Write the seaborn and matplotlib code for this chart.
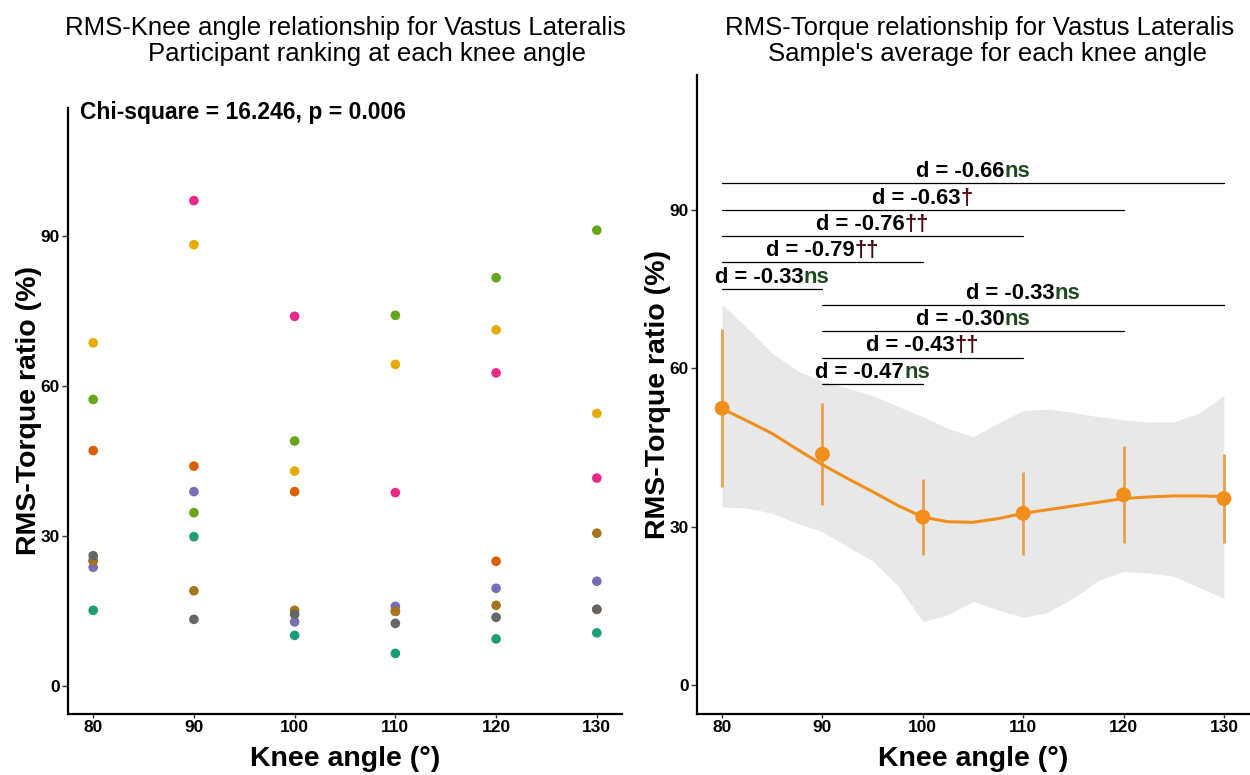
import numpy as np
import pandas as pd
import seaborn as sns
import matplotlib.pyplot as plt

sns.set_style("white")
plt.rcParams['font.family'] = ['Liberation Sans', 'DejaVu Sans']
plt.rcParams.update({"text.color": "black", "axes.labelcolor": "black",
                     "xtick.color": "black", "ytick.color": "black",
                     "axes.edgecolor": "black"})

# ---------------- data ----------------
angles = [80, 90, 100, 110, 120, 130]
participants = ["P1", "P2", "P3", "P4", "P5", "P6", "P7", "P8"]
dark2 = ["#1B9E77", "#D95F02", "#7570B3", "#E7298A",
         "#66A61E", "#E6AB02", "#A6761D", "#666666"]

# participant values per angle (left panel), order = participants
p1 = [15.2, 29.9, 10.2, 6.6, 9.5, 10.7]
p2 = [47.1, 44.0, 38.9, 15.0, 25.0, 15.4]
p3 = [23.8, 38.9, 12.9, 16.0, 19.6, 21.0]
p4 = [25.1, 97.0, 73.9, 38.7, 62.6, 41.6]
p5 = [57.3, 34.7, 49.0, 74.1, 81.6, 91.1]
p6 = [68.6, 88.2, 43.0, 64.3, 71.2, 54.5]
p7 = [25.1, 19.1, 15.2, 15.0, 16.2, 30.6]
p8 = [26.1, 13.4, 14.4, 12.6, 13.8, 15.4]

# sample mean and error per angle (right panel)
mean_ratio = [52.4, 43.7, 31.8, 32.5, 36.0, 35.3]
err_ratio = [15.0, 9.7, 7.2, 7.9, 9.2, 8.4]

# smoothed fit with its confidence band
fit_x = [80, 82.5, 85, 87.5, 90, 92.5, 95, 97.5, 100, 102.5, 105,
         107.5, 110, 112.5, 115, 117.5, 120, 122.5, 125, 127.5, 130]
fit_y = [52.3, 50.0, 47.6, 44.6, 41.7, 39.1, 36.6, 34.0, 31.8, 30.9, 30.8,
         31.5, 32.5, 33.2, 33.9, 34.6, 35.3, 35.6, 35.8, 35.8, 35.7]
fit_hi = [72.1, 67.6, 62.8, 59.5, 57.5, 56.2, 54.8, 52.8, 50.8, 48.6, 47.0,
          49.6, 52.0, 52.2, 51.6, 50.8, 50.2, 49.8, 49.8, 51.5, 54.8]
fit_lo = [33.7, 33.5, 32.5, 30.6, 29.0, 26.2, 23.5, 18.8, 12.0, 13.3, 15.8,
          14.2, 12.8, 13.8, 16.5, 19.8, 21.5, 21.2, 20.6, 18.5, 16.4]

# pairwise comparisons: start angle, end angle, bar height, effect size, significance
cmp_x1 = [80, 80, 80, 80, 80, 90, 90, 90, 90]
cmp_x2 = [130, 120, 110, 100, 90, 130, 120, 110, 100]
cmp_y = [95, 90, 85, 80, 75, 72, 67, 62, 57]
cmp_d = ["-0.66", "-0.63", "-0.76", "-0.79", "-0.33", "-0.33", "-0.30", "-0.43", "-0.47"]
cmp_sig = ["ns", "\u2020", "\u2020\u2020", "\u2020\u2020", "ns", "ns", "ns", "\u2020\u2020", "ns"]

sig_colors = {"ns": "#1F4A1F", "\u2020": "#5C0A0A", "\u2020\u2020": "#4A0A14"}

df = pd.DataFrame({
    "angle": angles * len(participants),
    "ratio": p1 + p2 + p3 + p4 + p5 + p6 + p7 + p8,
    "participant": np.repeat(participants, len(angles)),
})

# ---------------- figure ----------------
fig = plt.figure(figsize=(12.5, 7.75), dpi=100)
ax1 = fig.add_axes([0.0544, 0.0787, 0.4432, 0.782])
ax2 = fig.add_axes([0.5576, 0.0787, 0.4416, 0.8245])

sns.scatterplot(data=df, x="angle", y="ratio", hue="participant",
                palette=dark2, s=48, edgecolor="none", legend=False, ax=ax1)

ax2.fill_between(fit_x, fit_lo, fit_hi, color="#E8E8E8", linewidth=0, zorder=1)
ax2.errorbar(angles, mean_ratio, yerr=err_ratio, fmt="none",
             ecolor="#EBA04C", elinewidth=2.0, capsize=0, zorder=2)
sns.lineplot(x=fit_x, y=fit_y, color="#F28E1C", linewidth=2.2, ax=ax2, zorder=3)
sns.scatterplot(x=angles, y=mean_ratio, color="#F28E1C", s=115,
                edgecolor="none", ax=ax2, zorder=4)

for x1, x2, y, d, sig in zip(cmp_x1, cmp_x2, cmp_y, cmp_d, cmp_sig):
    ax2.plot([x1, x2], [y, y], color="black", linewidth=0.9, zorder=5)
    full = ax2.text((x1 + x2) / 2, y + 0.2, f"d = {d}{sig}", ha="center", va="bottom",
                    fontsize=15.8, fontweight="bold", alpha=0, zorder=6)
    ax2.annotate(f"d = {d}", xy=(0, 0), xycoords=full, ha="left", va="bottom",
                 fontsize=15.8, fontweight="bold", color="black", zorder=6)
    ax2.annotate(sig, xy=(1, 0), xycoords=full, ha="right", va="bottom",
                 fontsize=15.8, fontweight="bold", color=sig_colors[sig], zorder=6)

for ax in (ax1, ax2):
    ax.set_xlim(77.5, 132.5)
    ax.set_ylim(-5.5, 115.5)
    ax.set_xticks(angles)
    ax.set_yticks([0, 30, 60, 90])
    ax.tick_params(axis="both", bottom=True, left=True, width=1,
                   color="#333333", labelcolor="black", labelsize=12.5)
    ax.tick_params(axis="x", length=3, pad=1)
    ax.tick_params(axis="y", length=4, pad=2)
    for lab in ax.get_xticklabels() + ax.get_yticklabels():
        lab.set_fontweight("bold")
    ax.spines["top"].set_visible(False)
    ax.spines["right"].set_visible(False)
    ax.spines["left"].set_linewidth(1.6)
    ax.spines["bottom"].set_linewidth(1.6)
    ax.set_xlabel("Knee angle (\u00b0)", fontsize=20.5, fontweight="bold", labelpad=8)
    ax.set_ylabel("RMS-Torque ratio (%)", fontsize=20.5, fontweight="bold", labelpad=-1)

fig.text(0.0640, 0.855, "Chi-square = 16.246, p = 0.006", fontsize=16.5,
         fontweight="bold", ha="left", va="center")

fig.text(345 / 1250, 1 - 28 / 775, "RMS-Knee angle relationship for Vastus Lateralis",
         fontsize=18.5, ha="center", va="center")
fig.text(367 / 1250, 1 - 54 / 775, "Participant ranking at each knee angle",
         fontsize=18.5, ha="center", va="center")
fig.text(980 / 1250, 1 - 28 / 775, "RMS-Torque relationship for Vastus Lateralis",
         fontsize=18.5, ha="center", va="center")
fig.text(988 / 1250, 1 - 54 / 775, "Sample's average for each knee angle",
         fontsize=18.5, ha="center", va="center")

fig.savefig("out.png", dpi=100, facecolor="white")
